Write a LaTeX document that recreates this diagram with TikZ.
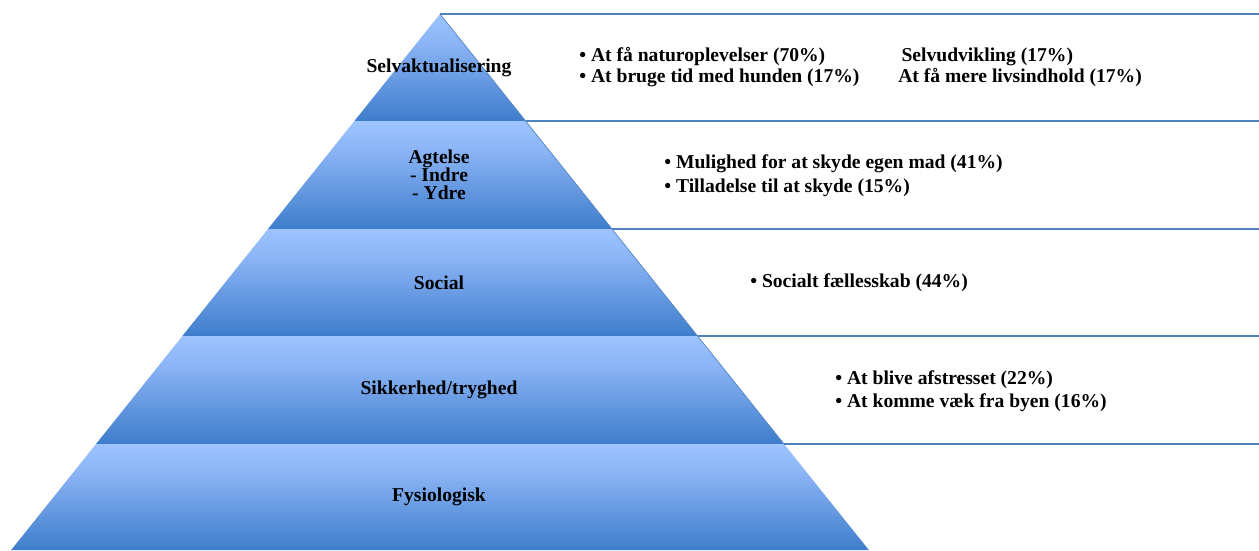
\documentclass[tikz,border=0pt]{standalone}
\usepackage{fontspec}
\setmainfont{Liberation Serif}

\definecolor{tierlight}{RGB}{157,196,255}
\definecolor{tiermid}{RGB}{140,181,246}
\definecolor{tierdark}{RGB}{62,125,204}
\definecolor{rulecol}{RGB}{79,129,189}
\pgfdeclareverticalshading{tiershade}{100bp}{color(0bp)=(tierdark); color(25bp)=(tierdark); color(62bp)=(tiermid); color(75bp)=(tierlight); color(100bp)=(tierlight)}

\tikzset{
	tier/.style={shading=tiershade, draw=none},
	border/.style={draw=rulecol, line width=1.8pt},
	level/.style={font=\bfseries\fontsize{14.7}{13.5}\selectfont, align=center, inner sep=0pt},
	reason/.style={font=\bfseries\fontsize{14.7}{17.5}\selectfont, align=left, anchor=west, inner sep=0pt},
}

\begin{document}
\begin{tikzpicture}[x=0.75pt, y=-0.75pt]
	\useasboundingbox (0, 0) rectangle (1259, 550);

	\draw[tier] (440, 14) -- (525.6, 121) -- (354.4, 121) -- cycle;
	\draw[tier] (354.4, 121) -- (525.6, 121) -- (612, 229) -- (268, 229) -- cycle;
	\draw[tier] (268, 229) -- (612, 229) -- (697.6, 336) -- (182.4, 336) -- cycle;
	\draw[tier] (182.4, 336) -- (697.6, 336) -- (784, 444) -- (96, 444) -- cycle;
	\draw[tier] (96, 444) -- (784, 444) -- (868.8, 550) -- (11.2, 550) -- cycle;

	\draw[rulecol, line width=0.5pt] (440, 14) -- (784, 444);

	\draw[border] (440, 14) -- (1259, 14);
	\draw[border] (525.6, 121) -- (1259, 121);
	\draw[border] (612, 229) -- (1259, 229);
	\draw[border] (697.6, 336) -- (1259, 336);
	\draw[border] (784, 444) -- (1259, 444);

	\node[level] (selv) at (439, 68) {Selvaktualisering};
	\node[level] (agtelse) at (439, 175) {Agtelse\\- Indre\\- Ydre};
	\node[level] (social) at (439, 283) {Social};
	\node[level] (sikker) at (439, 390) {Sikkerhed/tryghed};
	\node[level] (fysio) at (439, 497) {Fysiologisk};

	\node[reason, font=\bfseries\fontsize{14.7}{15.75}\selectfont] (selvA) at (579, 67.5) {• At få naturoplevelser (70\%)\\• At bruge tid med hunden (17\%)};
	\node[reason, font=\bfseries\fontsize{14.7}{15.75}\selectfont] (selvB) at (898, 67.5) {\,Selvudvikling (17\%)\\At få mere livsindhold (17\%)};
	\node[reason, font=\bfseries\fontsize{14.7}{18}\selectfont] (agtelseA) at (664, 176) {• Mulighed for at skyde egen mad (41\%)\\• Tilladelse til at skyde (15\%)};
	\node[reason] (socialA) at (750, 283) {• Socialt fællesskab (44\%)};
	\node[reason] (sikkerA) at (835, 391.5) {• At blive afstresset (22\%)\\• At komme væk fra byen (16\%)};

\end{tikzpicture}
\end{document}
